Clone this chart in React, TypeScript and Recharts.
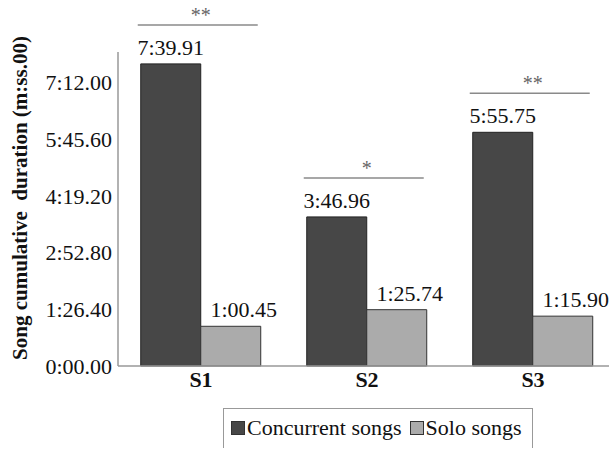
import { BarChart, Bar, XAxis, YAxis, Legend, LabelList, Label } from "recharts"

// durations in seconds
const sessions = ["S1", "S2", "S3"]
const concurrent = [459.91, 226.96, 355.75]
const solo = [60.45, 85.74, 75.9]
const significance = ["**", "*", "**"]
const yTicks = [0, 86.4, 172.8, 259.2, 345.6, 432]

const data = sessions.map((s, i) => ({ session: s, concurrent: concurrent[i], solo: solo[i] }))

const FONT = "'Liberation Serif', 'Times New Roman', serif"

function fmt(v: number) {
  const m = Math.floor(v / 60)
  const s = (v - m * 60).toFixed(2).padStart(5, "0")
  return `${m}:${s}`
}

function SigMark(props: any) {
  const { x, y, width, index } = props
  const ly = y - 39
  return (
    <g>
      <line x1={x - 3} x2={x + width * 2 - 3} y1={ly} y2={ly} stroke="#8a8a8a" strokeWidth={1.5} />
      <text x={x + width} y={ly - 3} textAnchor="middle" fontFamily={FONT} fontSize={20} fill="#666">
        {significance[index]}
      </text>
    </g>
  )
}

function LegendBox() {
  const item = (fill: string, text: string, gap: number) => (
    <span style={{ display: "inline-flex", alignItems: "center", marginRight: gap }}>
      <span style={{ width: 12, height: 12, background: fill, border: "1px solid #333", marginRight: 2 }} />
      {text}
    </span>
  )
  return (
    <div
      style={{
        border: "1px solid #999",
        borderBottom: "none",
        width: 310,
        height: 40,
        boxSizing: "border-box",
        display: "flex",
        alignItems: "flex-start",
        paddingTop: 6,
        paddingLeft: 7,
        fontFamily: FONT,
        fontSize: 22,
        lineHeight: "26px",
        color: "#111",
        whiteSpace: "nowrap",
      }}
    >
      {item("#474747", "Concurrent songs", 8)}
      {item("#ababab", "Solo songs", 0)}
    </div>
  )
}

export default function App() {
  return (
    <div style={{ position: "absolute", left: 0, top: 0, width: 609, height: 450, overflow: "hidden", background: "#fff" }}>
      <BarChart
        width={616}
        height={456}
        data={data}
        margin={{ top: 52, right: 0, bottom: 8, left: 0 }}
        barCategoryGap="13.7%"
        barGap={0}
      >
        <XAxis
          dataKey="session"
          height={42}
          axisLine={{ stroke: "#999", strokeWidth: 1.5 }}
          tickLine={false}
          tickSize={0}
          tick={{ fontFamily: FONT, fontSize: 22, fontWeight: "bold", fill: "#111" }}
          tickMargin={5}
        />
        <YAxis
          width={118}
          domain={[0, 478]}
          ticks={yTicks}
          tickFormatter={fmt}
          axisLine={{ stroke: "#999", strokeWidth: 1.5 }}
          tickLine={false}
          tickSize={0}
          tick={{ fontFamily: FONT, fontSize: 22, fill: "#111" }}
          tickMargin={6}
        >
          <Label
            content={() => {
              const cx = 20
              const cy = 198
              return (
                <text
                  x={cx}
                  y={cy}
                  transform={`rotate(-90, ${cx}, ${cy})`}
                  textAnchor="middle"
                  dominantBaseline="central"
                  fontFamily={FONT}
                  fontSize={21}
                  fontWeight="bold"
                  fill="#111"
                  style={{ whiteSpace: "pre" }}
                >
                  {"Song cumulative  duration (m:ss.00)"}
                </text>
              )
            }}
          />
        </YAxis>
        <Legend
          verticalAlign="bottom"
          wrapperStyle={{ left: 223, width: "auto" }}
          content={() => <LegendBox />}
        />
        <Bar dataKey="concurrent" name="Concurrent songs" fill="#474747" stroke="#222" strokeWidth={1} isAnimationActive={false}>
          <LabelList dataKey="concurrent" position="top" offset={9} formatter={fmt as any} style={{ fontFamily: FONT, fontSize: 22, fill: "#111" }} />
          <LabelList dataKey="concurrent" content={<SigMark />} />
        </Bar>
        <Bar dataKey="solo" name="Solo songs" fill="#ababab" stroke="#333" strokeWidth={1} isAnimationActive={false}>
          <LabelList
            dataKey="solo"
            content={(p: any) => (
              <text x={p.x + p.width / 2 + 13} y={p.y - 9} textAnchor="middle" fontFamily={FONT} fontSize={22} fill="#111">
                {fmt(p.value)}
              </text>
            )}
          />
        </Bar>
      </BarChart>
    </div>
  )
}
